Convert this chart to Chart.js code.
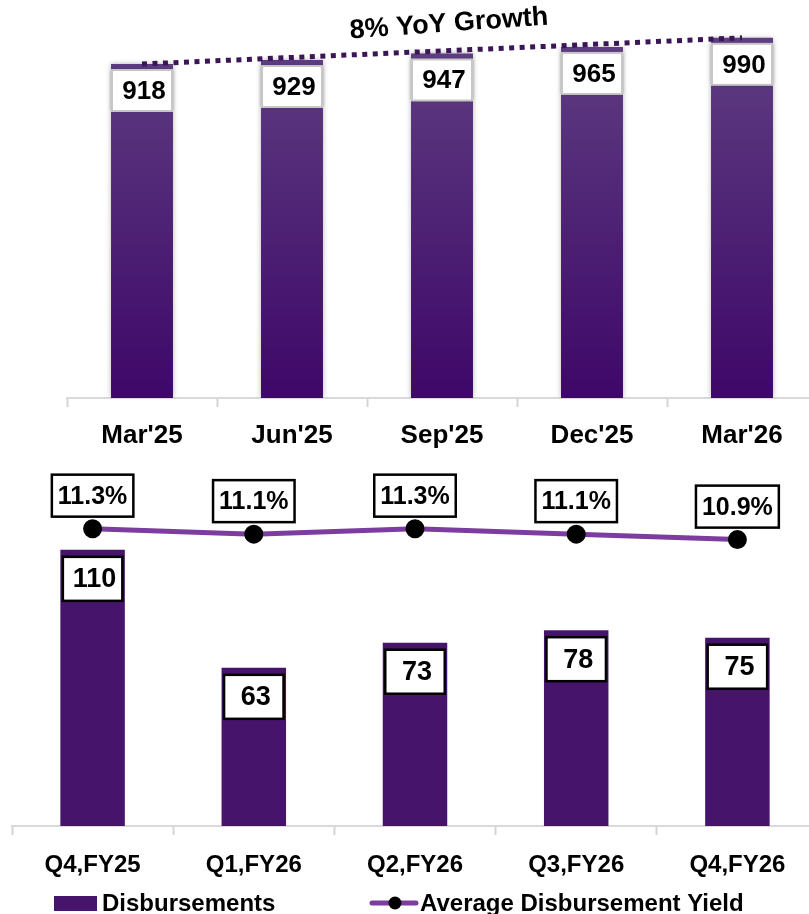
<!DOCTYPE html>
<html>
<head>
<meta charset="utf-8">
<script src="https://cdn.jsdelivr.net/npm/chart.js@4.4.1/dist/chart.umd.min.js"></script>
<style>
  body { margin: 0; background: #fff; width: 809px; height: 914px; overflow: hidden; position: relative; }
  canvas { position: absolute; left: 0; }
  #aum { top: 0; }
  #disb { top: 455px; }
</style>
</head>
<body>
<canvas id="aum" width="830" height="460"></canvas>
<canvas id="disb" width="830" height="459"></canvas>
<script>
// top chart: AUM by quarter end
var aumLabels = ["Mar'25", "Jun'25", "Sep'25", "Dec'25", "Mar'26"];
var aumValues = [918, 929, 947, 965, 990];
var trendValues = [918, null, null, null, 990];
var growthText = "8% YoY Growth";

// bottom chart: disbursements and yield
var qtrLabels = ["Q4,FY25", "Q1,FY26", "Q2,FY26", "Q3,FY26", "Q4,FY26"];
var disbValues = [110, 63, 73, 78, 75];
var yieldValues = [11.3, 11.1, 11.3, 11.1, 10.9];

var FONT = "'Liberation Sans', Arial, Helvetica, sans-serif";
Chart.defaults.font.family = FONT;
Chart.defaults.color = '#000';
Chart.defaults.animation = false;

var barShadow = {
  id: 'barShadow',
  beforeDatasetDraw: function(chart, args) {
    if (args.meta.type !== 'bar') return;
    chart.ctx.save();
    chart.ctx.shadowColor = 'rgba(0,0,0,0.3)';
    chart.ctx.shadowBlur = 5;
  },
  afterDatasetDraw: function(chart, args) {
    if (args.meta.type !== 'bar') return;
    chart.ctx.restore();
  }
};

function barGradient(ctx) {
  var area = ctx.chart.chartArea;
  if (!area) return '#47146c';
  var g = ctx.chart.ctx.createLinearGradient(0, area.top + 20, 0, area.bottom);
  g.addColorStop(0, '#5f3f82');
  g.addColorStop(1, '#3e0768');
  return g;
}

var aumBoxes = {
  id: 'aumBoxes',
  afterDatasetsDraw: function(chart) {
    var c = chart.ctx;
    chart.getDatasetMeta(1).data.forEach(function(bar, i) {
      var w = bar.width, x0 = bar.x - w / 2, y0 = bar.y + 6, h = 41;
      c.save();
      c.shadowColor = 'rgba(0,0,0,0.25)';
      c.shadowBlur = 3;
      c.fillStyle = '#fff';
      c.fillRect(x0, y0, w, h);
      c.shadowColor = 'transparent';
      c.strokeStyle = '#c6c6c6';
      c.lineWidth = 2;
      c.strokeRect(x0 + 1, y0, w - 2, h);
      c.fillStyle = '#000';
      c.font = 'bold 26px ' + FONT;
      c.textAlign = 'center';
      c.textBaseline = 'middle';
      c.fillText(aumValues[i], bar.x + 2, y0 + h / 2 + 1);
      c.restore();
    });
  },
  afterDraw: function(chart) {
    var c = chart.ctx, a = chart.chartArea;
    c.save();
    c.translate((a.left + a.right) / 2 + 7, 24);
    c.rotate(-4 * Math.PI / 180);
    c.font = 'bold 27px ' + FONT;
    c.textAlign = 'center';
    c.textBaseline = 'middle';
    c.fillStyle = '#000';
    c.fillText(growthText, 0, 0);
    c.restore();
  }
};

new Chart(document.getElementById('aum'), {
  type: 'bar',
  data: {
    labels: aumLabels,
    datasets: [
      {
        type: 'line',
        data: trendValues,
        spanGaps: true,
        borderColor: '#3a1656',
        borderWidth: 5,
        borderDash: [5, 5.5],
        pointRadius: 0,
        order: 0
      },
      {
        data: aumValues,
        backgroundColor: barGradient,
        barPercentage: 0.413,
        categoryPercentage: 1,
        order: 1
      }
    ]
  },
  options: {
    responsive: false,
    layout: { padding: { top: 16, left: 67, right: 13, bottom: 0 } },
    plugins: { legend: { display: false }, tooltip: { enabled: false } },
    scales: {
      x: {
        grid: { offset: true, drawOnChartArea: false, tickLength: 9, tickColor: '#d4d4d4', tickWidth: 2 },
        border: { color: '#d9d9d9', width: 2 },
        ticks: { font: { size: 26, weight: 'bold' }, padding: 13, color: '#000' },
        afterFit: function(s) { s.height = 62; }
      },
      y: { display: false, min: 0, max: 1050 }
    }
  },
  plugins: [barShadow, aumBoxes]
});

var disbBoxes = {
  id: 'disbBoxes',
  afterDatasetsDraw: function(chart) {
    var c = chart.ctx;
    c.save();
    c.textAlign = 'center';
    c.textBaseline = 'middle';
    // value boxes inside the bars
    chart.getDatasetMeta(1).data.forEach(function(bar, i) {
      var w = bar.width - 5, x0 = bar.x - w / 2, y0 = bar.y + 7, h = 44;
      c.fillStyle = '#fff';
      c.fillRect(x0, y0, w, h);
      c.strokeStyle = '#000';
      c.lineWidth = 2.5;
      c.strokeRect(x0, y0, w, h);
      c.fillStyle = '#000';
      c.font = 'bold 27px ' + FONT;
      c.fillText(disbValues[i], bar.x + 2, y0 + h / 2 + 1);
    });
    // yield boxes above the points
    c.font = 'bold 25px ' + FONT;
    chart.getDatasetMeta(0).data.forEach(function(pt, i) {
      var txt = yieldValues[i].toFixed(1) + '%';
      var w = c.measureText(txt).width + 12, h = 42;
      var x0 = pt.x - w / 2, y0 = pt.y - 12 - h;
      c.fillStyle = '#fff';
      c.fillRect(x0, y0, w, h);
      c.strokeStyle = '#000';
      c.lineWidth = 2.5;
      c.strokeRect(x0, y0, w, h);
      c.fillStyle = '#000';
      c.fillText(txt, pt.x, y0 + h / 2 + 1);
    });
    c.restore();
  },
  afterDraw: function(chart) {
    var c = chart.ctx, ds = chart.data.datasets, y = 448;
    c.save();
    c.font = 'bold 24px ' + FONT;
    c.textBaseline = 'middle';
    c.fillStyle = ds[1].backgroundColor;
    c.fillRect(54, y - 7, 43, 15);
    c.fillStyle = '#000';
    c.fillText(ds[1].label, 102, y + 1);
    c.strokeStyle = ds[0].borderColor;
    c.lineWidth = 5;
    c.lineCap = 'round';
    c.beginPath();
    c.moveTo(372, y);
    c.lineTo(416, y);
    c.stroke();
    c.fillStyle = '#000';
    c.beginPath();
    c.arc(395, y, 6.5, 0, Math.PI * 2);
    c.fill();
    c.fillText(ds[0].label, 420, y + 1);
    c.restore();
  }
};

new Chart(document.getElementById('disb'), {
  type: 'bar',
  data: {
    labels: qtrLabels,
    datasets: [
      {
        type: 'line',
        label: 'Average Disbursement Yield',
        data: yieldValues,
        yAxisID: 'y2',
        borderColor: '#7d3ca0',
        borderWidth: 5,
        pointRadius: 7,
        pointBackgroundColor: '#000',
        pointBorderColor: '#000',
        tension: 0,
        order: 0
      },
      {
        label: 'Disbursements',
        data: disbValues,
        backgroundColor: '#47146c',
        barPercentage: 0.4,
        categoryPercentage: 1,
        order: 1
      }
    ]
  },
  options: {
    responsive: false,
    layout: { padding: { top: 11, left: 9, right: 11, bottom: 26 } },
    plugins: { legend: { display: false }, tooltip: { enabled: false } },
    scales: {
      x: {
        grid: { offset: true, drawOnChartArea: false, tickLength: 9, tickColor: '#d4d4d4', tickWidth: 2 },
        border: { color: '#d9d9d9', width: 2 },
        ticks: { font: { size: 24, weight: 'bold' }, padding: 16, color: '#000' },
        afterFit: function(s) { s.height = 62; }
      },
      y: { display: false, min: 0, max: 143 },
      y2: { display: false, min: 0.45, max: 13.55 }
    }
  },
  plugins: [disbBoxes]
});
</script>
</body>
</html>
